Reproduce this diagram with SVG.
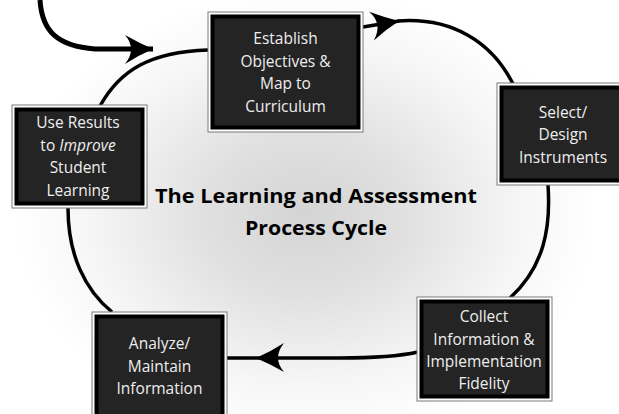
<svg xmlns="http://www.w3.org/2000/svg" width="619" height="414" viewBox="0 0 619 414">
<defs>
<radialGradient id="bg" cx="305" cy="215" r="290" gradientUnits="userSpaceOnUse" gradientTransform="translate(305 215) scale(1 0.78) translate(-305 -215)">
<stop offset="0" stop-color="#d4d4d4"/>
<stop offset="0.35" stop-color="#e0e0e0"/>
<stop offset="0.75" stop-color="#f6f6f6"/>
<stop offset="1" stop-color="#ffffff"/>
</radialGradient>
<marker id="ah" markerUnits="userSpaceOnUse" markerWidth="40" markerHeight="40" viewBox="-32 -20 40 40" refX="0" refY="0" orient="auto">
<path d="M0,0 Q-14,-6 -28,-14 Q-16,0 -28,15 Q-14,6 0,0 Z" fill="#000"/>
</marker>
<style>
.o{fill:#fff;stroke:#7a7a7a;stroke-width:1}
.i{fill:#242424;stroke:#000;stroke-width:4}
.t{font-family:"Open Sans","Noto Sans",sans-serif;font-size:15.5px;fill:#eeeeee;text-anchor:middle}
.c{fill:none;stroke:#000;stroke-width:3.5}
.title{font-family:"Open Sans","Noto Sans",sans-serif;font-size:19.5px;font-weight:bold;fill:#000;text-anchor:middle}
</style>
</defs>
<rect width="619" height="414" fill="url(#bg)"/>

<g id="connectors">
<path class="c" style="stroke-width:5" d="M40,0 C42,32 58,46 95,49 L153,49" marker-end="url(#ah)"/>
<path class="c" d="M100,106 C120,70 150,52 208,50"/>
<path class="c" d="M363,27 L399,21" marker-end="url(#ah)"/>
<path class="c" d="M398,21 C452,17 492,42 513,84"/>
<path class="c" d="M548,185 C551,228 544,267 510,298"/>
<path class="c" d="M418,352 C400,356 380,358 340,358 L256,358" marker-end="url(#ah)"/>
<path class="c" d="M256,358 L227,358"/>
<path class="c" d="M112,312 C85,290 68,255 68,208"/>
</g>

<g id="establish">
<rect class="o" x="208" y="12" width="155" height="120"/>
<rect class="i" x="212.5" y="16.5" width="146" height="111"/>
<text class="t" x="285.5" y="44">Establish</text>
<text class="t" x="285.5" y="66.5">Objectives &amp;</text>
<text class="t" x="285.5" y="89">Map to</text>
<text class="t" x="285.5" y="111.5">Curriculum</text>
</g>

<g id="select">
<rect class="o" x="497" y="83" width="130" height="102"/>
<rect class="i" x="501.5" y="87.5" width="121" height="93"/>
<text class="t" x="563" y="118">Select/</text>
<text class="t" x="563" y="140">Design</text>
<text class="t" x="563" y="162.5">Instruments</text>
</g>

<g id="collect">
<rect class="o" x="417" y="297" width="135" height="104"/>
<rect class="i" x="421.5" y="301.5" width="126" height="95"/>
<text class="t" x="484" y="322">Collect</text>
<text class="t" x="484" y="344.5">Information &amp;</text>
<text class="t" x="484" y="366.5">Implementation</text>
<text class="t" x="484" y="388.5">Fidelity</text>
</g>

<g id="analyze">
<rect class="o" x="92" y="312" width="135" height="112"/>
<rect class="i" x="96.5" y="316.5" width="126" height="103"/>
<text class="t" x="159.5" y="349">Analyze/</text>
<text class="t" x="159.5" y="371.5">Maintain</text>
<text class="t" x="159.5" y="394">Information</text>
</g>

<g id="useresults">
<rect class="o" x="12" y="105" width="135" height="103"/>
<rect class="i" x="16.5" y="109.5" width="126" height="94"/>
<text class="t" x="78" y="128">Use Results</text>
<text class="t" x="78" y="150.5">to <tspan font-style="italic">Improve</tspan></text>
<text class="t" x="78" y="173">Student</text>
<text class="t" x="78" y="195.5">Learning</text>
</g>

<g id="title">
<text class="title" x="316" y="203" textLength="322" lengthAdjust="spacingAndGlyphs">The Learning and Assessment</text>
<text class="title" x="316" y="235" textLength="142" lengthAdjust="spacingAndGlyphs">Process Cycle</text>
</g>
</svg>
